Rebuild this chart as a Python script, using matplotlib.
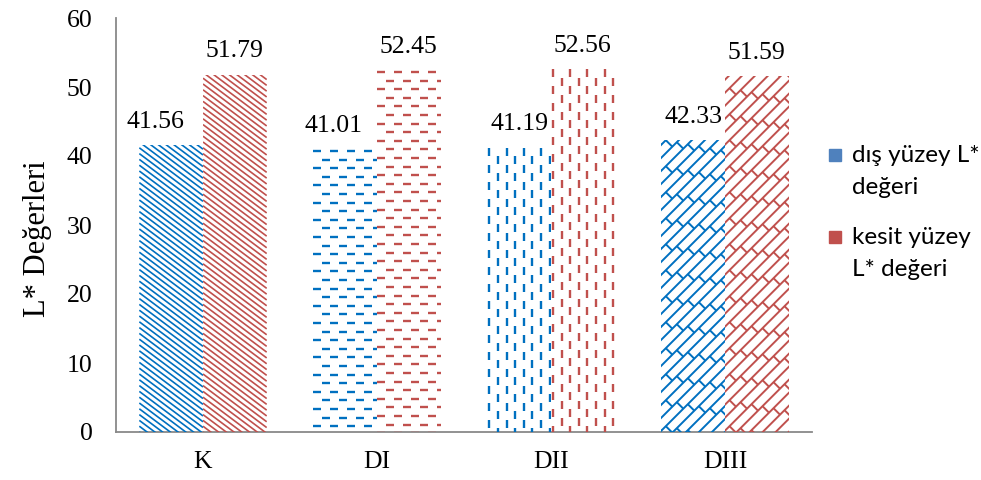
import numpy as np
import matplotlib
matplotlib.use("Agg")
import matplotlib.pyplot as plt
from matplotlib.collections import LineCollection
from matplotlib.patches import Rectangle
from matplotlib.transforms import IdentityTransform

# ── Data ──────────────────────────────────────────────────────────────────────
groups      = ["K", "DI", "DII", "DIII"]
dis_yuzey   = [41.56, 41.01, 41.19, 42.33]
kesit_yuzey = [51.79, 52.45, 52.56, 51.59]
series_lbl  = [["dış yüzey L*", "değeri"], ["kesit yüzey", "L* değeri"]]
y_ticks     = [0, 10, 20, 30, 40, 50, 60]

# ── Style ─────────────────────────────────────────────────────────────────────
BLUE_LINE = "#0070C0"
RED_LINE  = "#C0504D"
BLUE_KEY  = "#4F81BD"
RED_KEY   = "#C0504D"
SERIF     = "Liberation Serif"
SANS      = "Lato"
PATTERNS  = ["diag", "hdash", "vdash", "brick"]
PAT_LW    = {"diag": 1.2, "hdash": 1.7, "vdash": 1.7, "brick": 1.4}
LABEL_DX  = [[-16, 0], [-12, 0], [0, 0], [0, 0]]   # px shift of value labels
BAR_W     = 0.366
W, H      = 981, 480


def pattern_segments(kind, x0, y0, x1, y1):
    """Line segments (display px) filling the box x0..x1, y0..y1."""
    segs = []
    w, h = x1 - x0, y1 - y0
    if kind == "diag":
        step, slope = 5.8, -0.75
        for c in np.arange(0, h - slope * w + step, step):
            segs.append([(x0, y0 + c), (x1, y0 + c + slope * w)])
    elif kind == "hdash":
        row, period, dash = 8.6, 17.0, 8.0
        for i, y in enumerate(np.arange(y1 - 2, y0 - row, -row)):
            off = (period / 2) * (i % 2)
            for x in np.arange(x0 - period + off, x1 + period, period):
                segs.append([(x, y), (x + dash, y)])
    elif kind == "vdash":
        col, period, dash = 8.6, 17.0, 8.0
        for i, x in enumerate(np.arange(x0 + 2, x1 + col, col)):
            off = (period / 2) * (i % 2)
            for y in np.arange(y1 + off, y0 - period, -period):
                segs.append([(x, y), (x, y - dash)])
    elif kind == "brick":
        s, L = 13.0, 22.0
        for k, c in enumerate(np.arange(y0 - x1 - s, y1 - x0 + s, s)):
            segs.append([(x0 - s, x0 - s + c), (x1 + s, x1 + s + c)])
            off = (L / 2) * (k % 2)
            for x in np.arange(x0 - 2 * L + off, x1 + 2 * L, L):
                segs.append([(x, x + c), (x - s / 2, x + c + s / 2)])
    return segs


fig = plt.figure(figsize=(W / 100, H / 100), dpi=100)
ax = fig.add_axes([116 / W, 1 - 432 / H, 696 / W, 414 / H])
ax.set_xlim(-0.5, len(groups) - 0.5)
ax.set_ylim(0, 60)

x = np.arange(len(groups))
series = [(dis_yuzey, -BAR_W / 2, BLUE_LINE), (kesit_yuzey, BAR_W / 2, RED_LINE)]
for s_idx, (vals, dx, col) in enumerate(series):
    bars = ax.bar(x + dx, vals, width=BAR_W, color="white", edgecolor="none", zorder=2)
    for i, (bar, v) in enumerate(zip(bars, vals)):
        (px0, py0), (px1, py1) = ax.transData.transform(
            [(bar.get_x(), 0), (bar.get_x() + bar.get_width(), v)])
        kind = PATTERNS[i]
        lc = LineCollection(pattern_segments(kind, px0, py0, px1, py1),
                            colors=col, linewidths=PAT_LW[kind], capstyle="butt",
                            transform=IdentityTransform(), zorder=3)
        ax.add_collection(lc, autolim=False)
        lc.set_clip_path(bar.get_path(), bar.get_transform())
        ax.annotate(f"{v:.2f}", (bar.get_x() + bar.get_width() / 2, v),
                    xytext=(LABEL_DX[i][s_idx] * 0.72, 12.5), textcoords="offset points",
                    ha="center", va="baseline", fontsize=18.5, family=SERIF)

# ── Axes styling ──────────────────────────────────────────────────────────────
for side in ("top", "right"):
    ax.spines[side].set_visible(False)
for side in ("left", "bottom"):
    ax.spines[side].set_color("#898989")
    ax.spines[side].set_linewidth(1.3)
ax.set_yticks(y_ticks)
ax.set_xticks(x, groups)
ax.tick_params(axis="y", length=0, pad=17, labelsize=18.5)
ax.tick_params(axis="x", length=0, pad=14, labelsize=18.5)
for lbl in ax.get_xticklabels() + ax.get_yticklabels():
    lbl.set_family(SERIF)
ax.set_ylabel("L* Değerleri", fontsize=22, family=SERIF)
ax.yaxis.set_label_coords(-0.092, 0.467)

# ── Legend ────────────────────────────────────────────────────────────────────
for (line1, line2), key, ytop in zip(series_lbl, [BLUE_KEY, RED_KEY], [155, 237]):
    fig.add_artist(Rectangle((829 / W, 1 - (ytop + 6) / H), 12 / W, 12 / H,
                             transform=fig.transFigure, color=key))
    fig.text(852 / W, 1 - ytop / H, line1, va="center", ha="left",
             fontsize=17.5, family=SANS)
    fig.text(852 / W, 1 - (ytop + 32) / H, line2, va="center", ha="left",
             fontsize=17.5, family=SANS)

fig.savefig("out.png", dpi=100)
